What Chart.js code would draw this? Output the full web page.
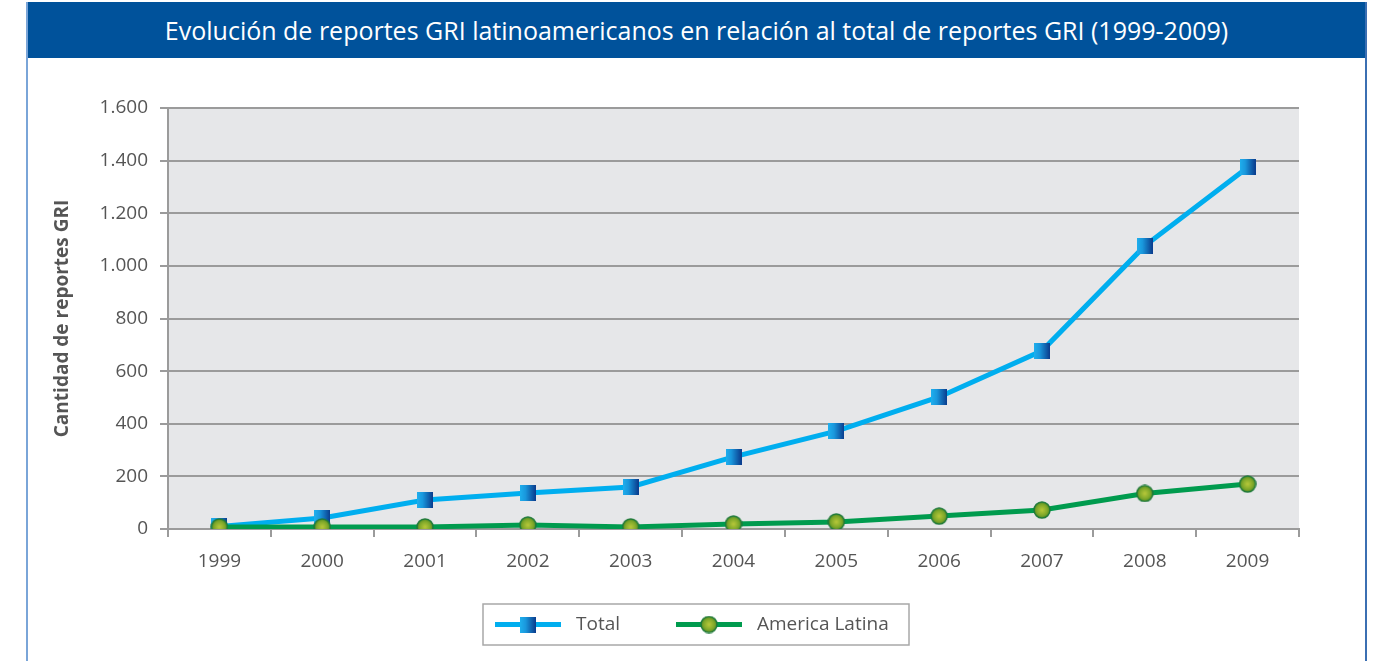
<!DOCTYPE html>
<html>
<head>
<meta charset="utf-8">
<script src="https://cdn.jsdelivr.net/npm/chart.js@4.4.0/dist/chart.umd.min.js"></script>
<style>
  html, body { margin: 0; padding: 0; background: #fff; }
  body { width: 1379px; height: 661px; position: relative; overflow: hidden; font-family: "Open Sans", sans-serif; }
  #frame {
    position: absolute; left: 26px; top: 2px; width: 1337px; height: 700px;
    border-left: 2px solid #7aa5d8; border-right: 2px solid #3b6fb2;
  }
  #title {
    position: absolute; left: 0; top: 0; width: 100%; height: 56px;
    background: #00529b; color: #fff; font-size: 25px; line-height: 56px;
    text-align: center;
  }
  #chart { position: absolute; left: 0; top: 0; }
</style>
</head>
<body>
<div id="frame"><div id="title">Evolución de reportes GRI latinoamericanos en relación al total de reportes GRI (1999-2009)</div></div>
<canvas id="chart" width="1379" height="661"></canvas>
<script>
const years = ['1999', '2000', '2001', '2002', '2003', '2004', '2005', '2006', '2007', '2008', '2009'];
const totalReports = [10, 42, 110, 137, 160, 274, 372, 502, 677, 1076, 1374];
const latinReports = [8, 8, 8, 15, 8, 19, 27, 49, 72, 135, 171];
const seriesNames = ['Total', 'America Latina'];
const yTicks = [0, 200, 400, 600, 800, 1000, 1200, 1400, 1600];

// marcadores con degradado
function squareMarker(size) {
    const c = document.createElement('canvas');
    c.width = size; c.height = size;
    const g = c.getContext('2d');
    const grad = g.createLinearGradient(0, 0, size, 0);
    grad.addColorStop(0, '#1fb0ee');
    grad.addColorStop(0.35, '#1a98dd');
    grad.addColorStop(1, '#0a3b8c');
    g.fillStyle = grad;
    g.fillRect(0, 0, size, size);
    return c;
}

function circleMarker(size) {
    const c = document.createElement('canvas');
    c.width = size; c.height = size;
    const g = c.getContext('2d');
    const r = size / 2;
    const grad = g.createRadialGradient(r, r, 0, r, r, r);
    grad.addColorStop(0, '#b8c83a');
    grad.addColorStop(0.6, '#7fa82a');
    grad.addColorStop(1, '#3d7f22');
    g.beginPath();
    g.arc(r, r, r - 1, 0, Math.PI * 2);
    g.fillStyle = grad;
    g.fill();
    g.lineWidth = 1.5;
    g.strokeStyle = '#1f7a3a';
    g.stroke();
    return c;
}

const sq = squareMarker(16);
const circ = circleMarker(18);

const plotBackground = {
    id: 'plotBackground',
    beforeDraw(chart) {
        const { ctx, chartArea: a } = chart;
        ctx.save();
        ctx.fillStyle = '#e6e7e9';
        ctx.fillRect(a.left, a.top, a.right - a.left, a.bottom - a.top);
        ctx.restore();
    }
};

// leyenda en recuadro
const boxLegend = {
    id: 'boxLegend',
    afterDraw(chart) {
        const ctx = chart.ctx;
        const x = 483, y = 604, w = 426, h = 41;
        ctx.save();
        ctx.strokeStyle = '#a8a8a8';
        ctx.lineWidth = 1.5;
        ctx.strokeRect(x, y, w, h);
        const cy = y + h / 2;
        const items = [
            { x0: 495, color: '#00aeef', img: sq, tx: 576 },
            { x0: 676, color: '#009b4e', img: circ, tx: 757 }
        ];
        ctx.font = '19px "Open Sans", sans-serif';
        ctx.textBaseline = 'middle';
        items.forEach((it, i) => {
            ctx.strokeStyle = it.color;
            ctx.lineWidth = 5;
            ctx.beginPath();
            ctx.moveTo(it.x0, cy);
            ctx.lineTo(it.x0 + 66, cy);
            ctx.stroke();
            ctx.drawImage(it.img, it.x0 + 33 - it.img.width / 2, cy - it.img.height / 2);
            ctx.fillStyle = '#555';
            ctx.fillText(seriesNames[i], it.tx, cy);
        });
        ctx.restore();
    }
};

const fmt = v => String(v).replace(/\B(?=(\d{3})+(?!\d))/g, '.');

new Chart(document.getElementById('chart'), {
    type: 'line',
    data: {
        labels: years,
        datasets: [{
            label: seriesNames[0],
            data: totalReports,
            borderColor: '#00aeef',
            borderWidth: 5,
            pointStyle: sq,
            order: 2
        }, {
            label: seriesNames[1],
            data: latinReports,
            borderColor: '#009b4e',
            borderWidth: 5,
            pointStyle: circ,
            order: 1
        }]
    },
    options: {
        responsive: false,
        animation: false,
        layout: { padding: { left: 0, top: 108, right: 80, bottom: 0 } },
        plugins: { legend: { display: false }, tooltip: { enabled: false } },
        scales: {
            x: {
                offset: true,
                afterFit: s => { s.height = 132; },
                grid: { drawOnChartArea: false, drawTicks: true, tickLength: 8, color: '#9b9b9b', lineWidth: 2, offset: true },
                border: { color: '#9b9b9b', width: 2 },
                ticks: { color: '#555', font: { family: 'Open Sans', size: 19 }, padding: 13 }
            },
            y: {
                min: 0,
                max: 1600,
                afterFit: s => { s.width = 168; },
                afterBuildTicks: s => { s.ticks = yTicks.map(v => ({ value: v })); },
                grid: { color: '#9b9b9b', lineWidth: 2, tickLength: 8 },
                border: { color: '#9b9b9b', width: 2 },
                ticks: { color: '#555', font: { family: 'Open Sans', size: 19 }, padding: 12, callback: v => fmt(v) },
                title: {
                    display: true,
                    text: 'Cantidad de reportes GRI',
                    color: '#555',
                    font: { family: 'Open Sans', size: 19, weight: 'bold' },
                    padding: { top: 51, bottom: 0 }
                }
            }
        }
    },
    plugins: [plotBackground, boxLegend]
});
</script>
</body>
</html>
